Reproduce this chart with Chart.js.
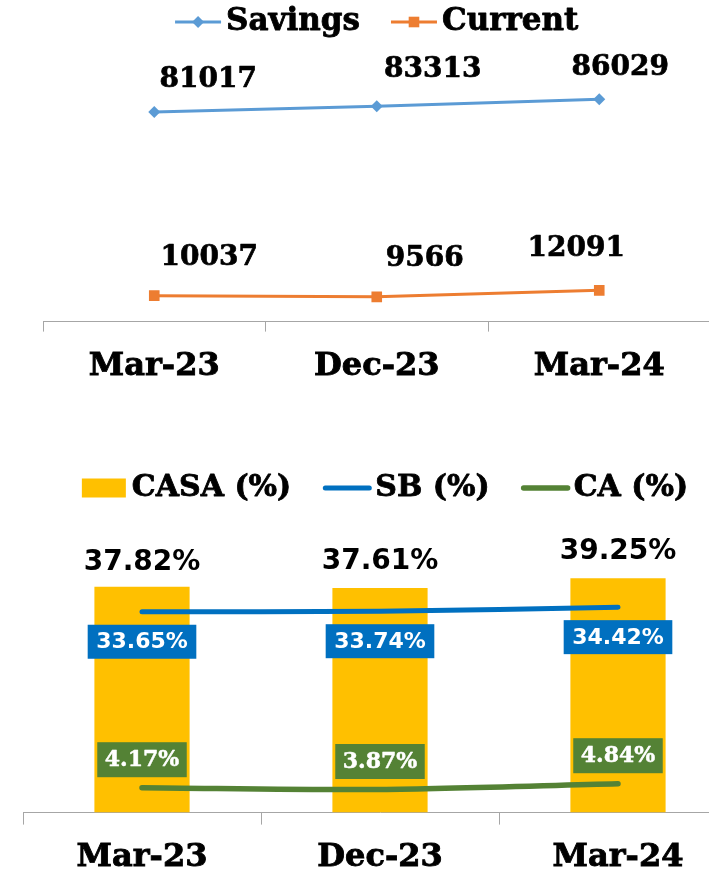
<!DOCTYPE html>
<html>
<head>
<meta charset="utf-8">
<script src="https://cdn.jsdelivr.net/npm/chart.js@4.4.1/dist/chart.umd.min.js"></script>
<style>
    html, body { margin: 0; padding: 0; background: #fff; }
    body { width: 709px; height: 870px; overflow: hidden; position: relative; }
    .box { position: absolute; left: 0; }
</style>
</head>
<body>
<div class="box" style="top:0; width:718px; height:402px;"><canvas id="depositChart"></canvas></div>
<div class="box" style="top:430px; width:737px; height:461px;"><canvas id="casaChart"></canvas></div>

<script>
// --- data ---
const periods = ['Mar-23', 'Dec-23', 'Mar-24'];
const savings = [81017, 83313, 86029];
const current = [10037, 9566, 12091];

const casaPct = [37.82, 37.61, 39.25];
const sbPct = [33.65, 33.74, 34.42];
const caPct = [4.17, 3.87, 4.84];

const SERIF = '"DejaVu Serif"';
const SANS = '"DejaVu Sans"';
const AXIS_GREY = '#a6a6a6';

// small markers for legend / points
function drawMarker(ctx, ds, x, y, w) {
    if (ds.type === 'bar') {
        ctx.fillStyle = ds.backgroundColor;
        ctx.fillRect(x, y - 9.5, w, 19);
        return;
    }
    ctx.strokeStyle = ds.borderColor;
    ctx.lineWidth = ds.borderWidth;
    ctx.lineCap = ds.borderCapStyle || 'butt';
    ctx.beginPath();
    ctx.moveTo(x, y);
    ctx.lineTo(x + w, y);
    ctx.stroke();
    if (ds.pointRadius > 0) {
        const cx = x + w / 2, r = ds.pointRadius;
        ctx.fillStyle = ds.borderColor;
        ctx.beginPath();
        if (ds.pointStyle === 'rectRot') {
            ctx.moveTo(cx - r, y); ctx.lineTo(cx, y - r);
            ctx.lineTo(cx + r, y); ctx.lineTo(cx, y + r);
            ctx.closePath();
        } else {
            const s = r * Math.SQRT1_2;
            ctx.rect(cx - s, y - s, 2 * s, 2 * s);
        }
        ctx.fill();
    }
}

// text a bit heavier, the original face is a very black slab serif
function heavyText(ctx, text, x, y, color, weight) {
    ctx.fillStyle = color;
    ctx.fillText(text, x, y);
    if (weight) {
        ctx.strokeStyle = color;
        ctx.lineWidth = weight;
        ctx.lineJoin = 'round';
        ctx.strokeText(text, x, y);
    }
}

// legend drawn by hand so the marker sits like the original
const sketchLegend = {
    id: 'sketchLegend',
    afterDraw(chart, args, opts) {
        const ctx = chart.ctx;
        ctx.save();
        ctx.font = opts.font;
        ctx.textBaseline = 'middle';
        const items = chart.data.datasets.map(ds => ({
            ds, w: opts.markerW + opts.markerGap + ctx.measureText(ds.label).width
        }));
        const total = items.reduce((s, it) => s + it.w, 0) + opts.itemGap * (items.length - 1);
        let x = (chart.chartArea.left + chart.chartArea.right) / 2 - total / 2 + (opts.shiftX || 0);
        items.forEach(it => {
            drawMarker(ctx, it.ds, x, opts.y, opts.markerW);
            ctx.font = opts.font;
            ctx.textAlign = 'left';
            heavyText(ctx, it.ds.label, x + opts.markerW + opts.markerGap, opts.y, '#000', 0.8);
            x += it.w + opts.itemGap;
        });
        ctx.restore();
    }
};

// value labels (optionally boxed)
const valueLabels = {
    id: 'valueLabels',
    afterDatasetsDraw(chart, args, opts) {
        const ctx = chart.ctx;
        ctx.save();
        chart.data.datasets.forEach((ds, i) => {
            const st = opts.styles[i];
            if (!st) return;
            const meta = chart.getDatasetMeta(i);
            meta.data.forEach((el, j) => {
                const text = st.format(ds.data[j]);
                const dx = Array.isArray(st.dx) ? st.dx[j] : st.dx;
                const dy = Array.isArray(st.dy) ? st.dy[j] : st.dy;
                const x = el.x + dx, y = el.y + dy;
                ctx.font = st.font;
                ctx.textAlign = 'center';
                ctx.textBaseline = 'middle';
                if (st.boxColor) {
                    const w = ctx.measureText(text).width + st.padX * 2;
                    ctx.fillStyle = st.boxColor;
                    ctx.fillRect(x - w / 2, y - st.boxH / 2, w, st.boxH);
                }
                heavyText(ctx, text, x, y + 1, st.color, st.heavy || 0);
            });
        });
        ctx.restore();
    }
};

function xAxis(tickLen, pad) {
    return {
        type: 'category',
        offset: true,
        grid: { offset: true, drawOnChartArea: false, tickLength: tickLen, color: AXIS_GREY },
        border: { color: AXIS_GREY, width: 1 },
        ticks: {
            color: '#000',
            padding: pad,
            textStrokeColor: '#000',
            textStrokeWidth: 0.9,
            font: { family: SERIF, size: 32, weight: 'bold' }
        }
    };
}

// --- top: savings / current deposits ---
new Chart(document.getElementById('depositChart'), {
    type: 'line',
    data: {
        labels: periods,
        datasets: [{
            label: 'Savings',
            data: savings,
            borderColor: '#5b9bd5',
            backgroundColor: '#5b9bd5',
            borderWidth: 3,
            pointStyle: 'rectRot',
            pointRadius: 6,
            pointBorderWidth: 0,
            tension: 0
        }, {
            label: 'Current',
            data: current,
            borderColor: '#ed7d31',
            backgroundColor: '#ed7d31',
            borderWidth: 3,
            pointStyle: 'rect',
            pointRadius: 7.5,
            pointBorderWidth: 0,
            tension: 0
        }]
    },
    options: {
        animation: false,
        responsive: true,
        maintainAspectRatio: false,
        layout: { padding: { top: 63, left: 43, right: 0, bottom: 0 } },
        plugins: {
            legend: { display: false },
            tooltip: { enabled: false },
            sketchLegend: { y: 22, font: `bold 31px ${SERIF}`, markerW: 46, markerGap: 5, itemGap: 31 },
            valueLabels: {
                styles: [
                    { font: `bold 28px ${SERIF}`, color: '#000', heavy: 0.7, format: v => String(v), dx: [54, 56, 21], dy: [-33, -37, -32] },
                    { font: `bold 28px ${SERIF}`, color: '#000', heavy: 0.7, format: v => String(v), dx: [55, 48, -23], dy: [-39, -39, -43] }
                ]
            }
        },
        scales: {
            x: xAxis(10, 16),
            y: { display: false, min: 0, max: 100000 }
        }
    },
    plugins: [sketchLegend, valueLabels]
});

// --- bottom: CASA ratio ---
new Chart(document.getElementById('casaChart'), {
    data: {
        labels: periods,
        datasets: [{
            type: 'bar',
            label: 'CASA (%)',
            data: casaPct,
            backgroundColor: '#ffc000',
            barPercentage: 0.4,
            categoryPercentage: 1,
            order: 3
        }, {
            type: 'line',
            label: 'SB (%)',
            data: sbPct,
            borderColor: '#0070c0',
            borderWidth: 5,
            borderCapStyle: 'round',
            pointRadius: 0,
            tension: 0.3,
            order: 1
        }, {
            type: 'line',
            label: 'CA (%)',
            data: caPct,
            borderColor: '#548235',
            borderWidth: 5.5,
            borderCapStyle: 'round',
            pointRadius: 0,
            tension: 0.3,
            order: 2
        }]
    },
    options: {
        animation: false,
        responsive: true,
        maintainAspectRatio: false,
        layout: { padding: { top: 114, left: 23, right: 0, bottom: 0 } },
        plugins: {
            legend: { display: false },
            tooltip: { enabled: false },
            sketchLegend: { y: 58, font: `bold 30px ${SERIF}`, markerW: 44, markerGap: 6, itemGap: 34, shiftX: 5 },
            valueLabels: {
                styles: [
                    { font: `bold 28px ${SANS}`, color: '#000', format: v => v.toFixed(2) + '%', dx: 0, dy: [-25, -27, -28] },
                    { font: `bold 22px ${SANS}`, color: '#fff', format: v => v.toFixed(2) + '%', dx: 0, dy: 30, boxColor: '#0070c0', padX: 8.5, boxH: 34 },
                    { font: `bold 22px ${SERIF}`, color: '#fff', heavy: 0.5, format: v => v.toFixed(2) + '%', dx: 0, dy: -28, boxColor: '#548235', padX: 7.5, boxH: 35 }
                ]
            }
        },
        scales: {
            x: xAxis(12, 14),
            y: { display: false, min: 0, max: 45 }
        }
    },
    plugins: [sketchLegend, valueLabels]
});
</script>
</body>
</html>
